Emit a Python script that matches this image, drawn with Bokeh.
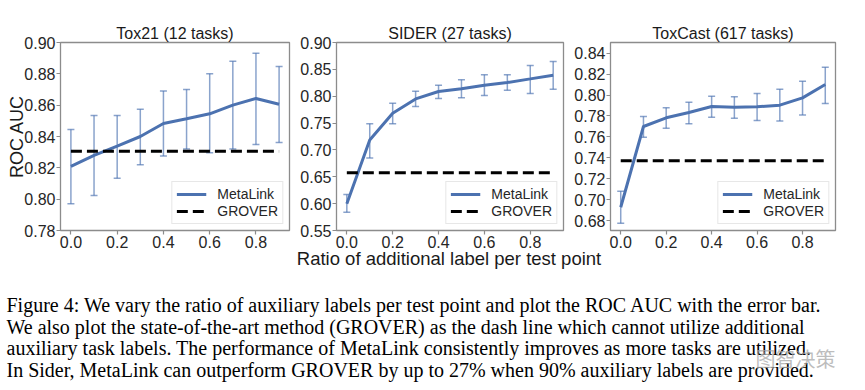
from bokeh.plotting import figure
from bokeh.models import (Range1d, FixedTicker, Whisker, ColumnDataSource,
                          Label, TeeHead, PrintfTickFormatter)
from bokeh.layouts import row, column
from bokeh.embed import file_html
from bokeh.resources import INLINE

# ---------------- data ----------------
ratios = [0.0, 0.1, 0.2, 0.3, 0.4, 0.5, 0.6, 0.7, 0.8, 0.9]

tox21_auc = [0.8209, 0.8279, 0.8338, 0.8400, 0.8483, 0.8513, 0.8545, 0.8600, 0.8643, 0.8606]
tox21_lo = [0.7970, 0.8023, 0.8134, 0.8219, 0.8275, 0.8321, 0.8296, 0.8321, 0.8349, 0.8362]
tox21_hi = [0.8445, 0.8534, 0.8534, 0.8574, 0.8690, 0.8700, 0.8800, 0.8881, 0.8932, 0.8847]
tox21_grover = 0.8306

sider_auc = [0.600, 0.7185, 0.7684, 0.7950, 0.8087, 0.8137, 0.8205, 0.8255, 0.8323, 0.8392]
sider_lo = [0.584, 0.6851, 0.7486, 0.7807, 0.7957, 0.7970, 0.8013, 0.8112, 0.8051, 0.8131]
sider_hi = [0.617, 0.7488, 0.7870, 0.8093, 0.8205, 0.8305, 0.8398, 0.8398, 0.8572, 0.8647]
sider_grover = 0.6575

toxcast_auc = [0.6927, 0.7699, 0.7782, 0.7833, 0.7890, 0.7884, 0.7887, 0.7903, 0.7973, 0.8100]
toxcast_lo = [0.6775, 0.7597, 0.7683, 0.7725, 0.7788, 0.7779, 0.7757, 0.7751, 0.7810, 0.7919]
toxcast_hi = [0.7080, 0.7795, 0.7878, 0.7932, 0.7989, 0.7983, 0.8015, 0.8056, 0.8132, 0.8266]
toxcast_grover = 0.7371

x_ticks = [0.0, 0.2, 0.4, 0.6, 0.8]
tox21_yticks = [0.78, 0.80, 0.82, 0.84, 0.86, 0.88, 0.90]
sider_yticks = [0.55, 0.60, 0.65, 0.70, 0.75, 0.80, 0.85, 0.90]
toxcast_yticks = [0.68, 0.70, 0.72, 0.74, 0.76, 0.78, 0.80, 0.82, 0.84]

x_label = "Ratio of additional label per test point"
caption_lines = [
    "Figure 4: We vary the ratio of auxiliary labels per test point and plot the ROC AUC with the error bar.",
    "We also plot the state-of-the-art method (GROVER) as the dash line which cannot utilize additional",
    "auxiliary task labels. The performance of MetaLink consistently improves as more tasks are utilized.",
    "In Sider, MetaLink can outperform GROVER by up to 27% when 90% auxiliary labels are provided.",
]

BLUE = "#4C72B0"
GRAY = "#8c8c8c"
FONT = "Liberation Sans"
TOP_H = 258
OVERLAP = 18


def panel(title, auc, lo, hi, grover, yticks, yr, width, left, right, ylabel=None):
    p = figure(width=width, height=TOP_H, output_backend="svg", toolbar_location=None,
               x_range=Range1d(-0.045, 0.945), y_range=Range1d(*yr),
               min_border_left=left, min_border_right=right,
               min_border_top=42, min_border_bottom=TOP_H - 42 - 188, title=title)
    src = ColumnDataSource(dict(x=ratios, auc=auc, lo=lo, hi=hi))
    w = Whisker(source=src, base="x", upper="hi", lower="lo",
                line_color=BLUE, line_alpha=0.65, line_width=1.5,
                upper_head=TeeHead(size=7, line_color=BLUE, line_alpha=0.65, line_width=1.5),
                lower_head=TeeHead(size=7, line_color=BLUE, line_alpha=0.65, line_width=1.5))
    p.add_layout(w)
    p.line("x", "auc", source=src, line_color=BLUE, line_width=3,
           legend_label="MetaLink")
    p.line(x=[ratios[0], ratios[-1]], y=[grover, grover], line_color="black",
           line_width=3, line_dash="11 5", legend_label="GROVER")

    p.grid.visible = False
    p.outline_line_color = GRAY
    p.outline_line_width = 1.3
    p.axis.axis_line_color = None
    p.axis.major_tick_line_color = GRAY
    p.axis.major_tick_line_width = 1.2
    p.axis.major_tick_out = 4
    p.axis.major_tick_in = 0
    p.axis.minor_tick_line_color = None
    p.axis.major_label_text_font = FONT
    p.axis.major_label_text_font_size = "16px"
    p.axis.major_label_text_color = "#262626"
    p.axis.major_label_standoff = 1
    p.xaxis.ticker = FixedTicker(ticks=x_ticks)
    p.xaxis.formatter = PrintfTickFormatter(format="%.1f")
    p.yaxis.ticker = FixedTicker(ticks=yticks)
    p.yaxis.formatter = PrintfTickFormatter(format="%.2f")

    if ylabel:
        p.yaxis.axis_label = ylabel
        p.yaxis.axis_label_text_font = FONT
        p.yaxis.axis_label_text_font_size = "18px"
        p.yaxis.axis_label_text_font_style = "normal"
        p.yaxis.axis_label_text_color = "#1a1a1a"
        p.yaxis.axis_label_standoff = -6

    p.title.text_font = FONT
    p.title.text_font_size = "16px"
    p.title.text_font_style = "normal"
    p.title.text_color = "#1a1a1a"
    p.title.align = "center"
    p.title.standoff = 2

    lg = p.legend[0]
    lg.location = "bottom_right"
    lg.margin = 6
    lg.padding = 4
    lg.spacing = 1
    lg.label_height = 16
    lg.glyph_height = 16
    lg.glyph_width = 30
    lg.label_standoff = 11
    lg.label_text_font = FONT
    lg.label_text_font_size = "14px"
    lg.label_text_color = "#262626"
    lg.border_line_color = "#d0d0d0"
    lg.border_line_width = 1
    lg.background_fill_alpha = 0.85
    return p


p1 = panel("Tox21 (12 tasks)", tox21_auc, tox21_lo, tox21_hi, tox21_grover,
           tox21_yticks, (0.78, 0.90), 297, 60, 8, ylabel="ROC AUC")
p2 = panel("SIDER (27 tasks)", sider_auc, sider_lo, sider_hi, sider_grover,
           sider_yticks, (0.55, 0.90), 274, 37, 8)
p3 = panel("ToxCast (617 tasks)", toxcast_auc, toxcast_lo, toxcast_hi, toxcast_grover,
           toxcast_yticks, (0.6705, 0.8502), 286, 37, 22)

# bottom strip: shared x-axis title + caption; pulled up so it overlaps
# the (empty) lower border of the panel row, transparent background
BOT_Y0 = TOP_H - OVERLAP          # page y of the strip's top edge
BOT_H = 388 - BOT_Y0
bot = figure(width=857, height=BOT_H, output_backend="svg", toolbar_location=None,
             x_range=Range1d(0, 857), y_range=Range1d(BOT_H, 0),
             x_axis_location=None, y_axis_location=None, min_border=0,
             margin=(-OVERLAP, 0, 0, 0))
bot.grid.visible = False
bot.outline_line_color = None
bot.background_fill_color = None
bot.border_fill_color = None

bot.add_layout(Label(x=448.5, y=258 - BOT_Y0, text=x_label, text_font=FONT,
                     text_font_size="18.5px", text_color="#1a1a1a",
                     text_align="center", text_baseline="alphabetic"))

baselines = [304, 326, 347, 369]
for txt, yb in zip(caption_lines, baselines):
    bot.add_layout(Label(x=6, y=yb - BOT_Y0, text=txt, text_font="Liberation Serif",
                         text_font_size="20px", text_color="black",
                         text_baseline="alphabetic"))
bot.add_layout(Label(x=755, y=343 - BOT_Y0, text="图智决策", text_font="Noto Sans CJK SC",
                     text_font_size="20px", text_color="#a8a8a8", text_alpha=0.75,
                     text_baseline="top"))

layout = column(row(p1, p2, p3), bot)
open("out.html", "w").write(file_html(layout, INLINE))
